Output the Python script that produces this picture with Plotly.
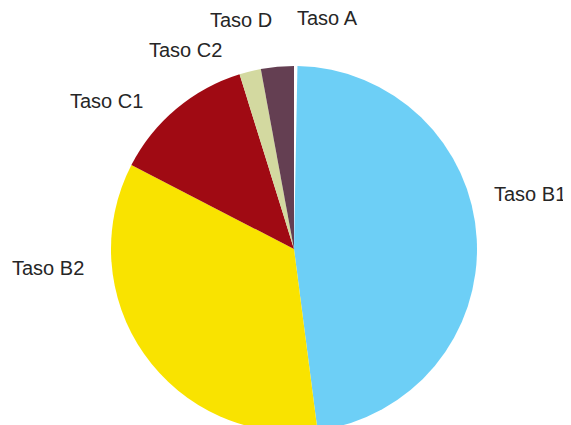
import plotly.graph_objects as go

# slice data, clockwise from 12 o'clock
labels = ["Taso A", "Taso B1", "Taso B2", "Taso C1", "Taso C2", "Taso D"]
values = [0.3, 47.6, 34.6, 12.6, 1.9, 2.9]
colors = ["#ffffff", "#6dcff6", "#f9e300", "#a00a13", "#d3d9a0", "#643f52"]

# label centres in figure pixels (x from left, y from top)
label_px = {
    "Taso A": (319, 10),
    "Taso B1": (522, 186),
    "Taso B2": (40, 260),
    "Taso C1": (98, 93),
    "Taso C2": (177, 42),
    "Taso D": (233, 12),
}

# the page body adds an 8px margin, so the figure is a bit smaller than the window
W, H = 563, 424

fig = go.Figure(
    go.Pie(
        labels=labels,
        values=values,
        marker=dict(colors=colors, line=dict(width=0)),
        sort=False,
        direction="clockwise",
        rotation=0,
        textinfo="none",
        hoverinfo="label+percent",
        showlegend=False,
        domain=dict(x=[103 / W, 469 / W], y=[0, 366 / H]),
    )
)

for name in labels:
    px_x, px_y = label_px[name]
    fig.add_annotation(
        text=name,
        x=px_x / W,
        y=(H - px_y) / H,
        xref="paper",
        yref="paper",
        xanchor="center",
        yanchor="middle",
        showarrow=False,
        font=dict(size=20, color="#262626", family="Liberation Sans, Arial, sans-serif"),
    )

fig.update_layout(
    width=W,
    height=H,
    margin=dict(l=0, r=0, t=0, b=0),
    paper_bgcolor="white",
    plot_bgcolor="white",
)

fig.write_html("out.html")
